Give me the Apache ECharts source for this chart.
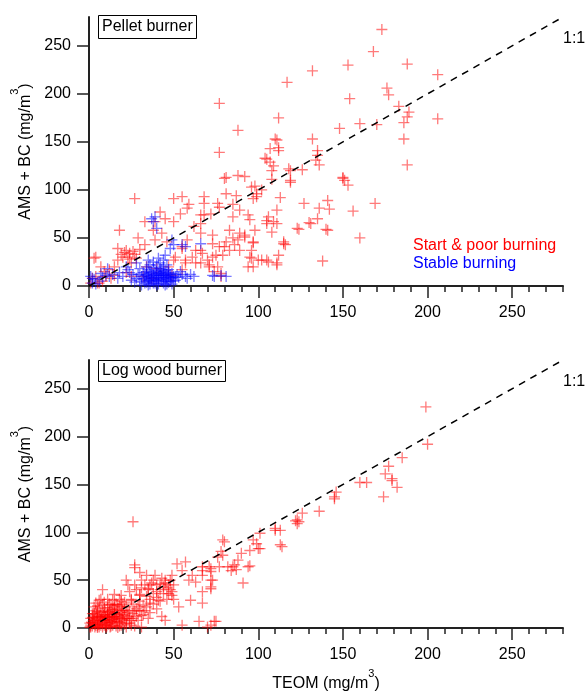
<!DOCTYPE html>
<html>
<head>
<meta charset="utf-8">
<title>AMS + BC vs TEOM</title>
<script src="https://cdn.jsdelivr.net/npm/echarts@6/dist/echarts.min.js"></script>
<style>
    html, body { margin: 0; padding: 0; background: #fff; }
    #chart { width: 585px; height: 695px; }
</style>
</head>
<body>
<div id="chart"></div>
<script>
// TEOM vs AMS+BC (mg/m3)
var pelletPoor = [
    [173,267],[168,244],[153,230],[132,224],[117,212],[188,231],[206,220],[176,206],[177,199],[154,195],
    [183,187],[189,181],[188,176],[186,170],[206,174],[160,169],[170,168],[148,164],[132,153],[186,153],
    [135,141],[134,131],[136,126],[188,126],[119,120],[126,121],[119,108],[150,112],[153,105],[127,86],
    [141,89],[142,80],[136,81],[135,70],[130,66],[124,59],[141,58],[156,78],[169,86],[160,50],
    [138,26],[115,44],[112,175],[77,190],[88,162],[77,139],[110,153],[112,144],[105,132],[109,125],
    [118,122],[119,110],[88,115],[92,114],[81,113],[98,104],[99,93],[97,91],[113,92],[111,79],
    [105,68],[109,67],[123,60],[81,96],[87,94],[76,86],[68,86],[89,79],[85,72],[94,74],
    [72,75],[66,74],[55,93],[50,91],[59,85],[58,81],[27,91],[42,77],[54,75],[45,70],
    [33,67],[38,58],[50,67],[62,62],[66,55],[73,53],[83,58],[85,50],[89,55],[92,53],
    [97,46],[81,46],[77,41],[83,37],[86,43],[75,32],[95,30],[100,27],[105,27],[111,24],
    [115,46],[94,20],[66,37],[70,27],[61,30],[55,41],[58,48],[66,24],[57,24],[51,30],
    [78,13],[18,58],[17,39],[22,37],[26,36],[20,30],[28,29],[7,20],[4,30],[12,17],
    [10,10],[15,11],[25,10],[32,10],[37,8],[34,20],[40,18],[47,20],[1,3],[5,3],
    [2,8],[8,5],[111,152],[107,143],[112,141],[104,133],[107,129],[135,136],[108,120],[108,111],
    [151,110],[80,112],[96,103],[99,96],[102,100],[68,93],[77,82],[85,85],[95,69],[106,72],
    [105,65],[108,56],[111,65],[116,43],[98,58],[97,45],[92,51],[88,48],[80,41],[89,37],
    [79,32],[96,37],[96,29],[102,27],[106,25],[111,22],[112,32],[97,20],[73,44],[73,30],
    [76,20],[71,22],[74,15],[78,10],[68,74],[66,65],[131,65],[140,59],[150,113],[3,29],
    [39,67],[29,50],[39,48],[33,43],[43,55],[46,46],[24,34],[17,27],[25,24],[9,15],
    [4,10],[13,8],[6,3],[55,39],[57,27],[63,24],[71,20],[55,17],[50,27],[63,37],
    [67,34],[49,11],[21,35],[23,30],[27,33],[30,38],[19,33],[24,28],[15,20],[22,14]
];
var pelletStable = [
    [39,72],[38,67],[37,70],[40,60],[49,48],[48,39],[55,43],[66,44],[57,41],[50,43],
    [45,32],[35,27],[41,29],[44,27],[28,24],[22,20],[23,17],[11,18],[7,13],[12,10],
    [1,10],[2,8],[2,3],[10,11],[17,8],[73,11],[57,10],[78,11],[81,10],[62,10],
    [74,10],[30,5],[31,10],[32,14],[33,3],[33,8],[34,12],[35,6],[35,17],[36,2],
    [36,10],[37,14],[37,5],[38,8],[38,19],[39,3],[39,12],[40,6],[40,15],[41,9],
    [41,2],[42,11],[42,18],[43,5],[43,13],[44,8],[44,3],[45,11],[45,16],[46,7],
    [46,2],[47,10],[47,14],[48,5],[48,12],[49,8],[50,10],[51,6],[52,12],[34,20],
    [36,22],[38,25],[40,22],[42,24],[29,12],[28,8],[27,4],[26,12],[25,6],[53,9],
    [55,12],[24,14],[30,18],[44,20],[46,22],[31,1],[35,1],[40,1],[45,1],[49,2],
    [32,7],[34,4],[36,13],[38,11],[39,7],[41,13],[43,9],[44,15],[46,12],[47,4],
    [48,9],[50,5],[37,9],[39,16],[42,7],[45,5],[33,11],[35,9],[40,11],[43,17],
    [47,17],[49,13],[51,9],[36,5],[41,5],[38,3],[44,11],[46,9],[42,14],[34,15],
    [6,5],[4,2],[8,9],[14,12],[20,10],[18,14],[3,7],[58,8],[60,12],[54,15]
];
var logWood = [
    [199,231],[200,192],[185,178],[177,169],[175,161],[179,156],[182,147],[174,137],[164,152],[160,152],
    [146,142],[145,137],[136,122],[126,120],[124,111],[122,112],[114,85],[113,102],[179,154],[145,135],
    [123,109],[110,104],[101,99],[97,92],[113,87],[100,83],[95,81],[90,78],[79,92],[78,80],
    [76,74],[79,76],[88,71],[86,66],[82,64],[84,60],[87,61],[95,65],[77,64],[71,64],
    [72,59],[67,64],[67,55],[73,50],[72,43],[91,47],[67,38],[67,26],[74,7],[70,1],
    [26,111],[27,66],[27,63],[8,40],[22,50],[31,50],[38,50],[45,47],[35,41],[40,38],
    [47,36],[30,34],[25,29],[19,34],[14,29],[6,29],[5,23],[15,22],[21,19],[29,22],
    [36,26],[41,29],[49,34],[43,12],[31,1],[25,3],[55,3],[65,7],[72,3],[53,22],
    [60,29],[52,67],[57,69],[55,60],[61,55],[59,50],[63,48],[67,60],[72,62],[72,50],
    [72,41],[48,50],[45,8],[75,7],[80,90],[94,64],[85,64],[99,88],[101,83],[110,102],
    [123,113],
    [10,12],[12,8],[14,15],[16,12],[18,18],[20,14],[22,22],[24,18],[26,25],[28,20],
    [30,28],[32,24],[34,33],[36,30],[38,36],[40,32],[42,40],[44,36],[46,42],[48,40],
    [50,45],[20,25],[25,30],[30,35],[35,40],[40,45],[45,50],[33,45],[37,47],[42,46],
    [44,43],[47,45],[49,38],[28,40],[24,38],[18,30],[15,35],[12,25],[26,15],[30,18],
    [34,22],[38,25],[42,28],[46,30],[50,30],[16,5],[20,8],[24,10],[28,12],[32,14],
    [36,16],[40,20],[11,30],[27,45],[31,42],[36,45],[39,55],[43,52],[49,55],[34,55],
    [30,58],[23,45],
    [0.5,1],[1,3],[1.5,6],[2,2],[2.5,8],[3,4],[3,11],[3.5,1],[4,6],[4.5,14],
    [5,2],[5,9],[5.5,4],[6,12],[6,1],[6.5,7],[7,3],[7,16],[7.5,10],[8,5],
    [8,1],[8.5,13],[9,8],[9,3],[9.5,18],[10,6],[10,11],[10.5,2],[11,14],[11,8],
    [11.5,4],[12,17],[12,11],[12.5,1],[13,6],[13,14],[13.5,9],[14,19],[14,3],[14.5,12],
    [15,7],[15,16],[16,10],[16,2],[17,14],[17,20],[18,6],[18,11],[19,16],[19,3],
    [20,9],[21,13],[22,5],[2,15],[1,10],[4,18],[0.5,5],[3,22],[6,20],[8,24],
    [9,27],[4,26],[7,30],[16,25],[19,22],[13,24],[11,21],[21,27],[23,12],[25,8],
    [27,2],[22,1],[17,0.5],[10,0.5],[5,0.5],
    [1,1],[2,5],[3,8],[4,3],[5,12],[6,4],[7,8],[8,11],[9,14],[10,3],
    [11,11],[12,5],[13,2],[14,9],[15,12],[16,15],[17,7],[18,2],[19,10],[20,18],
    [21,4],[22,10],[23,16],[24,5],[26,10],[27,18],[29,8],[31,13],[33,18],[35,10],
    [2,11],[3,15],[5,17],[7,12],[9,21],[11,17],[13,19],[15,24],[17,24],[19,28]
];
var oneToOne = [[0, 0], [280, 280]];
var majorTicks = [0, 50, 100, 150, 200, 250];

var font = 'Liberation Sans, Arial, Helvetica, sans-serif';
var cross = 'path://M0,4.4h10v1.2h-10z M4.4,0h1.2v10h-1.2z';
var nameRich = {
    a: { fontSize: 16, lineHeight: 24, verticalAlign: 'bottom', color: '#000', fontFamily: font },
    b: { fontSize: 11, lineHeight: 11, verticalAlign: 'top', color: '#000', fontFamily: font }
};

function onlyMajor(v) {
    return majorTicks.indexOf(v) >= 0 ? v : '';
}

// main x axis: minor ticks every 10 + labels
function xMain(grid, name) {
    return {
        type: 'value', gridIndex: grid, min: 0, max: 280, interval: 10,
        name: name || '', nameLocation: 'middle', nameGap: 40,
        nameTextStyle: { rich: nameRich },
        axisLine: { lineStyle: { color: '#222', width: 2 } },
        axisTick: { length: 6, lineStyle: { color: '#222', width: 1.5 } },
        axisLabel: { formatter: onlyMajor, margin: 19, fontSize: 16, color: '#000', fontFamily: font },
        splitLine: { show: false }
    };
}
// second x axis on the same grid, only the long ticks
function xMajor(grid) {
    return {
        type: 'value', gridIndex: grid, min: 0, max: 280, interval: 50, position: 'bottom',
        axisLine: { show: false },
        axisTick: { length: 12, customValues: majorTicks, lineStyle: { color: '#222', width: 1.5 } },
        axisLabel: { show: false },
        splitLine: { show: false }
    };
}
function yAxis(grid) {
    return {
        type: 'value', gridIndex: grid, min: 0, max: 280, interval: 50,
        name: '{a|AMS + BC (mg/m}{b|3}{a|)}', nameLocation: 'middle', nameGap: 50,
        nameTextStyle: { rich: nameRich },
        axisLine: { show: true, lineStyle: { color: '#222', width: 2 } },
        axisTick: { show: true, length: 12, customValues: majorTicks, lineStyle: { color: '#222', width: 1.5 } },
        axisLabel: { formatter: onlyMajor, customValues: majorTicks, margin: 18, fontSize: 16, color: '#000', fontFamily: font },
        splitLine: { show: false }
    };
}
function oneLine(xi, yi) {
    return {
        type: 'line', xAxisIndex: xi, yAxisIndex: yi, data: oneToOne,
        symbol: 'none', silent: true, z: 5,
        lineStyle: { color: '#000', width: 1.5, type: [7, 6] },
        endLabel: { show: true, formatter: '1:1', offset: [-8, 22], fontSize: 16, color: '#000', fontFamily: font }
    };
}
function scatter(name, data, color, xi, yi) {
    return {
        type: 'scatter', name: name, xAxisIndex: xi, yAxisIndex: yi, data: data,
        symbol: cross, symbolSize: 11,
        itemStyle: { color: color }
    };
}

var option = {
    animation: false,
    backgroundColor: '#fff',
    textStyle: { fontFamily: font },
    title: [{
        text: 'Pellet burner', left: 98, top: 15, padding: [4, 4],
        borderColor: '#000', borderWidth: 1,
        textStyle: { fontSize: 16, fontWeight: 'normal', color: '#000', fontFamily: font }
    }, {
        text: 'Log wood burner', left: 98, top: 360, padding: [3, 4],
        borderColor: '#000', borderWidth: 1,
        textStyle: { fontSize: 16, fontWeight: 'normal', color: '#000', fontFamily: font }
    }],
    legend: {
        data: [
            { name: 'Start & poor burning', textStyle: { color: '#ff0000' } },
            { name: 'Stable burning', textStyle: { color: '#0000ff' } }
        ],
        orient: 'vertical', left: 403, top: 233, itemGap: 2,
        icon: 'none', itemWidth: 0, itemHeight: 0, selectedMode: false,
        textStyle: { fontSize: 16, fontFamily: font }
    },
    grid: [
        { left: 89, top: 17, width: 474, height: 269 },
        { left: 89, top: 360, width: 474, height: 268 }
    ],
    xAxis: [xMain(0), xMajor(0), xMain(1, '{a|TEOM (mg/m}{b|3}{a|)}'), xMajor(1)],
    yAxis: [yAxis(0), yAxis(1)],
    series: [
        scatter('Start & poor burning', pelletPoor, 'rgba(255,0,0,0.65)', 0, 0),
        scatter('Stable burning', pelletStable, 'rgba(0,0,255,0.65)', 0, 0),
        oneLine(0, 0),
        scatter('Log wood burner', logWood, 'rgba(255,0,0,0.65)', 2, 1),
        oneLine(2, 1)
    ]
};

var chart = echarts.init(document.getElementById('chart'));
chart.setOption(option);
</script>
</body>
</html>
